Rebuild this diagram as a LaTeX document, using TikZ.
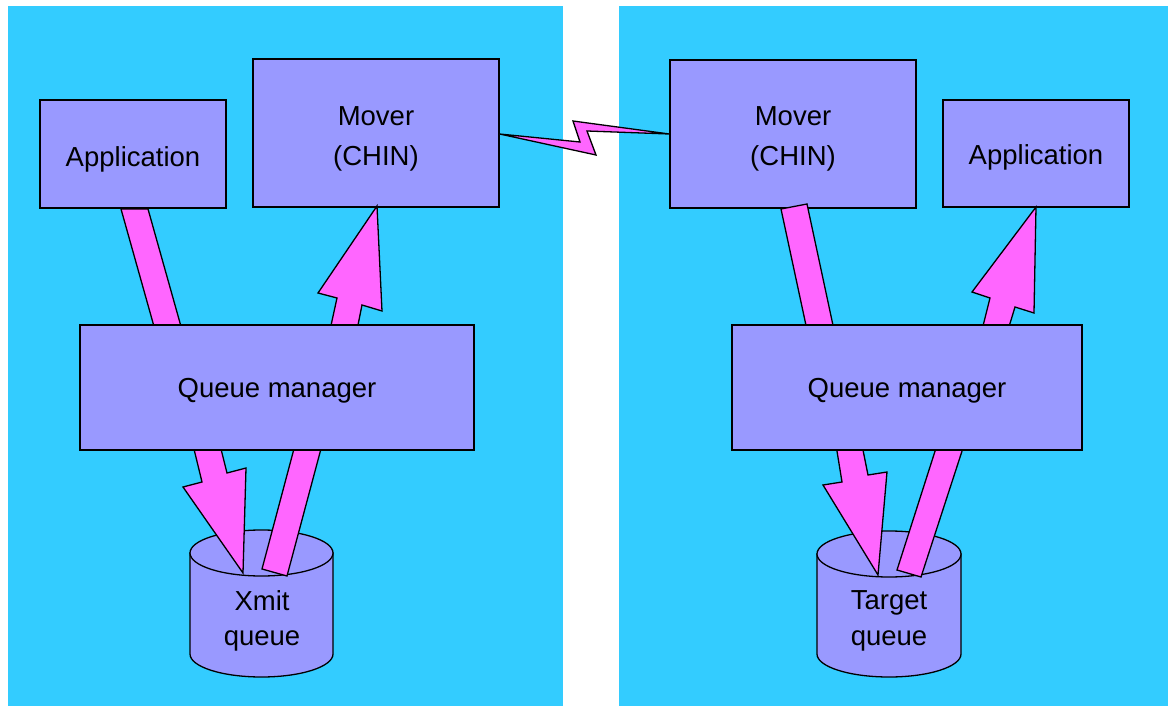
\documentclass[tikz,border=0pt]{standalone}
\usepackage{fontspec}
\setmainfont{Liberation Sans}
\definecolor{panelc}{HTML}{33CCFF}
\definecolor{boxc}{HTML}{9999FF}
\definecolor{pinkc}{HTML}{FF66FF}
\begin{document}
\begin{tikzpicture}[x=1pt,y=-1pt,
  box/.style={draw=black,fill=boxc,line width=1.3pt,inner sep=0pt},
  cyl/.style={draw=black,fill=boxc,line width=1.3pt},
  barrow/.style={draw=black,fill=pinkc,line width=1.3pt,line join=miter},
  lbl/.style={font=\fontsize{27.5}{40}\selectfont,inner sep=0pt,align=center}]
\useasboundingbox (0,0) rectangle (1168,706);
% panels
\fill[panelc] (8,6) rectangle (563,706);
\fill[panelc] (619,6) rectangle (1168,706);
% cylinders
\coordinate (cylL) at (261.5,553);
\coordinate (cylR) at (889,554);
\draw[cyl] (190,553) -- (190,654) arc[start angle=180,end angle=360,x radius=71.5pt,y radius=23pt] -- (333,553) -- cycle;
\draw[cyl] (cylL) ellipse[x radius=71.5pt,y radius=23pt];
\draw[cyl] (817,554) -- (817,654) arc[start angle=180,end angle=360,x radius=72pt,y radius=23pt] -- (961,554) -- cycle;
\draw[cyl] (cylR) ellipse[x radius=72pt,y radius=23pt];
\node[lbl] (xmit1) at (262,601) {Xmit};
\node[lbl] (xmit2) at (262,641) {queue};
\node[lbl] (tgt1) at (889,603) {Target};
\node[lbl] (tgt2) at (889,641) {queue};
% upper boxes
\node[box,minimum width=186pt,minimum height=108pt] (appL) at (133,154) {};
\node[box,minimum width=246pt,minimum height=148pt] (movL) at (376,133) {};
\node[box,minimum width=246pt,minimum height=148pt] (movR) at (793,134) {};
\node[box,minimum width=186pt,minimum height=107pt] (appR) at (1036,153.5) {};
\node[lbl] (appLt) at ([yshift=-5pt]appL.center) {Application};
\node[lbl] (movLt) at ([yshift=-6pt]movL.center) {Mover\\(CHIN)};
\node[lbl] (movRt) at ([yshift=-5pt]movR.center) {Mover\\(CHIN)};
\node[lbl] (appRt) at ([yshift=-4pt]appR.center) {Application};
% block arrows
\draw[barrow] (121,209) -- (148,209) -- (182,330) -- (155,330) -- cycle;
\draw[barrow] (330,330) -- (337,298) -- (318,293) -- (377,206) -- (382,311) -- (362,305) -- (357,330) -- cycle;
\draw[barrow] (193,445) -- (220,445) -- (227,473) -- (246,468) -- (243,573) -- (183,487) -- (202,482) -- cycle;
\draw[barrow] (295,445) -- (322,445) -- (287,576) -- (262,569) -- cycle;
\draw[barrow] (781,209) -- (807,204) -- (834,330) -- (807,330) -- cycle;
\draw[barrow] (982,330) -- (990,298) -- (972,292) -- (1036,207) -- (1034,313) -- (1015,307) -- (1008,330) -- cycle;
\draw[barrow] (836,445) -- (862,445) -- (868,475) -- (887,472) -- (878,575) -- (823,485) -- (842,482) -- cycle;
\draw[barrow] (937,445) -- (964,445) -- (921,577) -- (897,570) -- cycle;
% queue managers
\node[box,minimum width=394pt,minimum height=125pt] (qmL) at (277,387.5) {};
\node[box,minimum width=350pt,minimum height=125pt] (qmR) at (907,387.5) {};
\node[lbl] (qmLt) at ([yshift=-3pt]qmL.center) {Queue manager};
\node[lbl] (qmRt) at ([yshift=-3pt]qmR.center) {Queue manager};
% lightning link
\draw[barrow] (movL.east |- 0,134) -- (580,142) -- (573,121) -- (movR.west |- 0,134) -- (587,131) -- (596,155) -- cycle;
\end{tikzpicture}
\end{document}
